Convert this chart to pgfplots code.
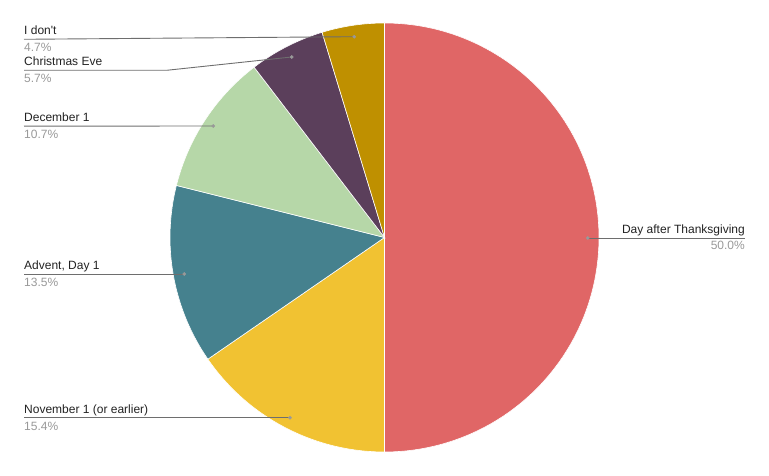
\documentclass[border=0pt]{standalone}
\usepackage{pgfplots}
\pgfplotsset{compat=1.18}
\usepackage{fontspec}
\setmainfont{Liberation Sans}

\definecolor{cRed}{HTML}{E06666}
\definecolor{cYel}{HTML}{F1C232}
\definecolor{cTeal}{HTML}{45818E}
\definecolor{cGreen}{HTML}{B6D7A8}
\definecolor{cPurp}{HTML}{5B3F5B}
\definecolor{cGold}{HTML}{BF9000}
\definecolor{lead}{HTML}{6E6E6E}
\definecolor{pct}{HTML}{999999}
\definecolor{name}{HTML}{222222}

\tikzset{lbl/.style={font=\fontsize{12}{14}\selectfont, inner sep=0pt}}

% slice: #1 = cumulative share before it (%), #2 = share (%), #3 = colour
\newcommand\slice[3]{%
  \fill[#3, draw=white, line width=0.6pt] (axis cs:384.5,238.5)
    -- ++({90-3.6*#1}:214.5pt)
    arc[start angle={90-3.6*#1}, delta angle={-3.6*#2}, radius=214.5pt] -- cycle;}

\begin{document}
\begin{tikzpicture}
\begin{axis}[
  x=1pt, y=1pt,
  xmin=0, xmax=769, ymin=0, ymax=476,
  hide axis, clip=false,
]
\path (axis cs:0,0) rectangle (axis cs:769,476);

% shares, clockwise from the top
\slice{0}{50.0}{cRed}
\slice{50.0}{15.4}{cYel}
\slice{65.4}{13.5}{cTeal}
\slice{78.9}{10.7}{cGreen}
\slice{89.6}{5.7}{cPurp}
\slice{95.3}{4.7}{cGold}

% leader lines
\addplot[lead, line width=0.9pt] coordinates {(24,436.7) (354.3,439.3)};
\addplot[lead, line width=0.9pt] coordinates {(24,405.7) (166.7,405.7) (291.7,419)};
\addplot[lead, line width=0.9pt] coordinates {(24,349.8) (213.3,350)};
\addplot[lead, line width=0.9pt] coordinates {(24,202) (184.3,202)};
\addplot[lead, line width=0.9pt] coordinates {(24,58.3) (290,58.3)};
\addplot[lead, line width=0.9pt] coordinates {(587.7,238) (745,238)};
\addplot[only marks, mark=*, mark size=1.6pt, color=pct] coordinates {
  (354.3,439.3) (291.7,419) (213.3,350) (184.3,202) (290,58.3) (587.7,238)};

% labels
\node[lbl, anchor=base west, text=name] at (axis cs:24,441.3) {I don\textquotesingle t};
\node[lbl, anchor=base west, text=pct]  at (axis cs:24,424.3) {4.7\%};
\node[lbl, anchor=base west, text=name] at (axis cs:24,410) {Christmas Eve};
\node[lbl, anchor=base west, text=pct]  at (axis cs:24,393.3) {5.7\%};
\node[lbl, anchor=base west, text=name] at (axis cs:24,354) {December 1};
\node[lbl, anchor=base west, text=pct]  at (axis cs:24,337) {10.7\%};
\node[lbl, anchor=base west, text=name] at (axis cs:24,206) {Advent, Day 1};
\node[lbl, anchor=base west, text=pct]  at (axis cs:24,189.3) {13.5\%};
\node[lbl, anchor=base west, text=name] at (axis cs:24,62.7) {November 1 (or earlier)};
\node[lbl, anchor=base west, text=pct]  at (axis cs:24,45.3) {15.4\%};
\node[lbl, anchor=base east, text=name] at (axis cs:745,242) {Day after Thanksgiving};
\node[lbl, anchor=base east, text=pct]  at (axis cs:745,226) {50.0\%};
\end{axis}
\end{tikzpicture}
\end{document}
